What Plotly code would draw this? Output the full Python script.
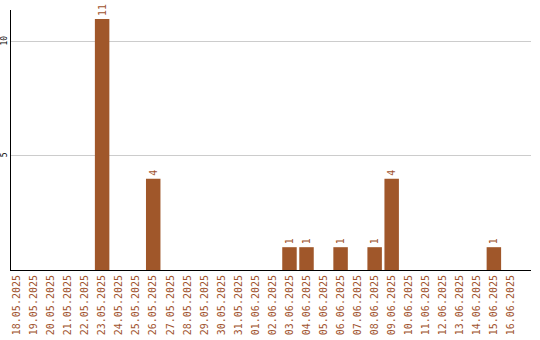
import plotly.graph_objects as go

dates = ["18.05.2025","19.05.2025","20.05.2025","21.05.2025","22.05.2025","23.05.2025",
         "24.05.2025","25.05.2025","26.05.2025","27.05.2025","28.05.2025","29.05.2025",
         "30.05.2025","31.05.2025","01.06.2025","02.06.2025","03.06.2025","04.06.2025",
         "05.06.2025","06.06.2025","07.06.2025","08.06.2025","09.06.2025","10.06.2025",
         "11.06.2025","12.06.2025","13.06.2025","14.06.2025","15.06.2025","16.06.2025"]
counts = [0,0,0,0,0,11,0,0,4,0,0,0,0,0,0,0,1,1,0,1,0,1,4,0,0,0,0,0,1,0]

labels = [str(v) if v else "" for v in counts]

fig = go.Figure(go.Bar(
    x=dates, y=counts, text=labels, textposition="outside", textangle=-90,
    textfont=dict(family="DejaVu Sans Mono", size=10, color="#A0522D"),
    marker=dict(color="#A0572A", line=dict(width=0)),
    cliponaxis=False,
))
fig.update_layout(
    width=540, height=340, margin=dict(l=11, r=9, t=10, b=70),
    paper_bgcolor="white", plot_bgcolor="white", bargap=0.15, showlegend=False,
    xaxis=dict(type="category", range=[-0.35, 30.18], tickangle=-90, showline=True,
               linecolor="black", linewidth=1, ticks="", showgrid=False, automargin=False,
               tickfont=dict(family="DejaVu Sans Mono", size=10, color="#A0522D")),
    yaxis=dict(range=[0, 11.4], tickvals=[5, 10], ticktext=["5", "10"], tickangle=-90,
               showline=True, linecolor="black", linewidth=1, gridcolor="#cccccc",
               zeroline=False, ticks="", ticklabelstandoff=0, automargin=False,
               tickfont=dict(family="DejaVu Sans Mono", size=8, color="black")),
)
fig.write_html("out.html")
